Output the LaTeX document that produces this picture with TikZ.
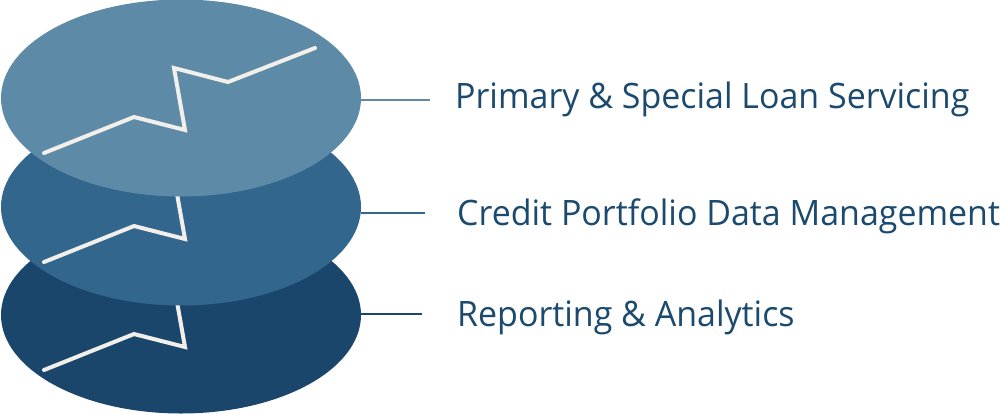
\documentclass[tikz,border=0pt]{standalone}
\usepackage{fontspec}
\setmainfont{Open Sans}[FakeStretch=0.97]
\usetikzlibrary{shapes.geometric}

\definecolor{layerlight}{HTML}{5D8BA7}
\definecolor{layermid}{HTML}{33668D}
\definecolor{layerdark}{HTML}{1B466B}
\definecolor{zigwhite}{HTML}{F2EFEB}
\definecolor{labelblue}{HTML}{1B4A6E}

\tikzstyle{disc} = [ellipse, minimum width=360pt, minimum height=197pt, inner sep=0pt]
\tikzstyle{zig} = [draw=zigwhite, line width=4pt, line cap=round, line join=miter]
\tikzstyle{tag} = [anchor=base west, inner sep=0pt, text=labelblue, font=\fontsize{35}{40}\selectfont]
\tikzstyle{lead} = [line width=2pt]

\begin{document}
\begin{tikzpicture}[x=1pt, y=-1pt]
  \useasboundingbox (0,0) rectangle (1000,413);
  % bottom layer
  \node (analytics) at (181,315) [disc, fill=layerdark] {};
  \draw [zig] (analytics.center) ++(-137,55) -- ++(90,-36) -- ++(51,13) -- ++(-11,-62) -- ++(54,14) -- ++(87,-34);
  % middle layer
  \node (portfolio) at (181,207) [disc, fill=layermid] {};
  \draw [zig] (portfolio.center) ++(-137,55) -- ++(90,-36) -- ++(51,13) -- ++(-11,-62) -- ++(54,14) -- ++(87,-34);
  % top layer
  \node (servicing) at (181,98) [disc, fill=layerlight] {};
  \draw [zig] (servicing.center) ++(-137,55) -- ++(90,-36) -- ++(51,13) -- ++(-11,-62) -- ++(54,14) -- ++(87,-34);

  \node (t1) at (455,108) [tag] {Primary \& Special Loan Servicing};
  \node (t2) at (457,225) [tag] {Credit Portfolio Data Management};
  \node (t3) at (457,326) [tag] {Reporting \& Analytics};

  \coordinate (e1) at (430,100);
  \coordinate (e2) at (425,213);
  \coordinate (e3) at (422,314);
  \draw [lead, layerlight] (servicing.east |- e1) -- (e1);
  \draw [lead, layermid] (portfolio.east |- e2) -- (e2);
  \draw [lead, layerdark] (analytics.east |- e3) -- (e3);
\end{tikzpicture}
\end{document}
